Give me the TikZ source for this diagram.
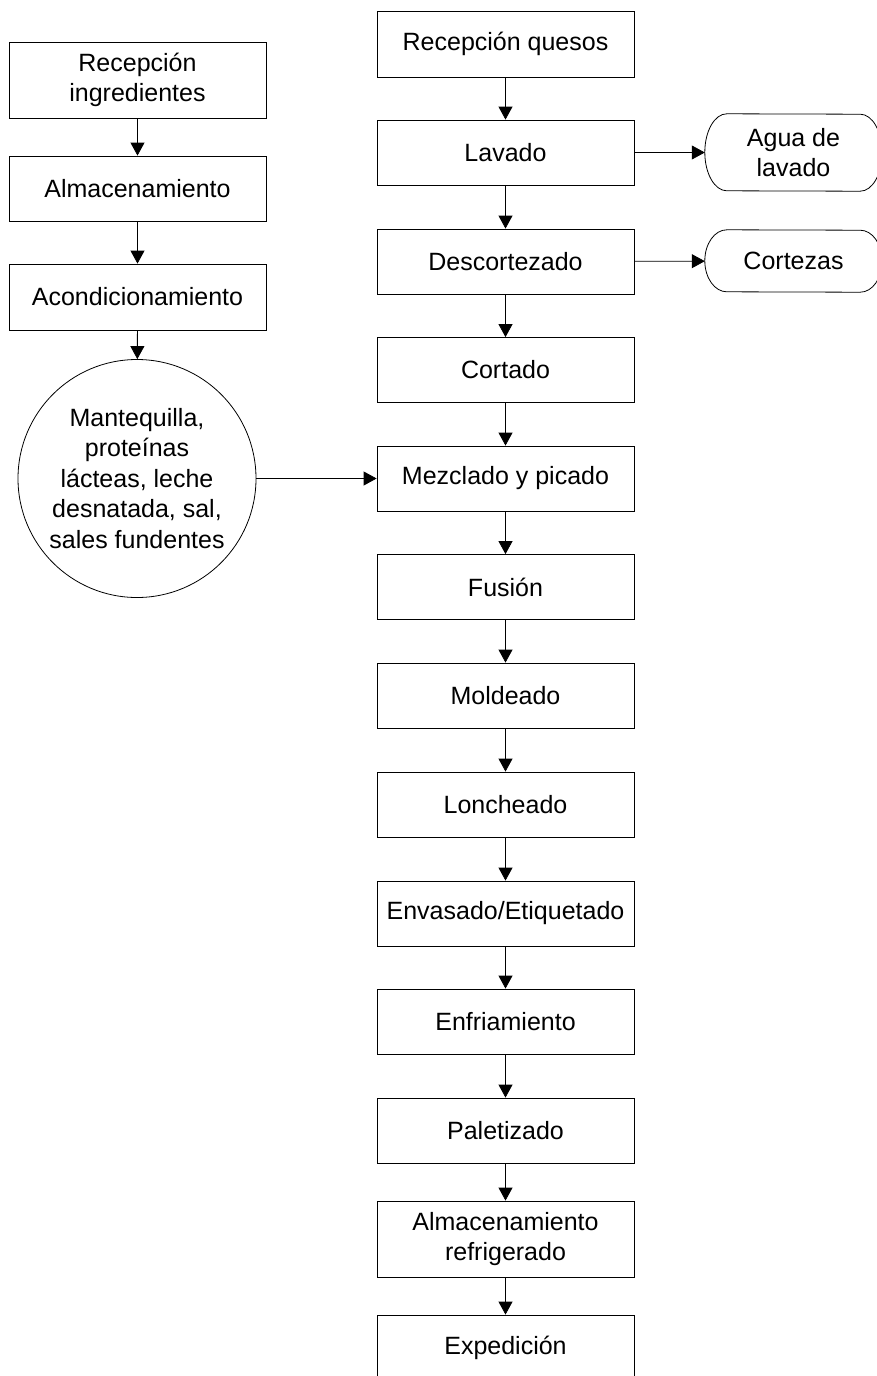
\documentclass[tikz,border=0pt]{standalone}
\usepackage{fontspec}
\setmainfont{Liberation Sans}
\usetikzlibrary{arrows.meta}

\begin{document}
\begin{tikzpicture}[x=1pt,y=-1pt,
  every node/.style={font=\fontsize{25}{30.5}\selectfont, align=center, inner sep=0pt},
  stepbox/.style={draw, line width=0.8pt, minimum width=257pt, minimum height=65pt},
  tallbox/.style={stepbox, minimum height=76pt},
  inputcircle/.style={draw, line width=0.8pt, circle, minimum size=238pt},
  flow/.style={line width=0.8pt, -{Triangle[width=14pt,length=13pt]}},
  termtext/.style={minimum width=177pt}
]
\useasboundingbox (0,0) rectangle (877,1376);
\clip (0,0) rectangle (877,1376);

% ingredients column
\node[tallbox] (ri)  at (137.5,80)   {Recepción\\ingredientes};
\node[stepbox] (alm1) at (137.5,188.5) {Almacenamiento};
\node[stepbox, minimum height=66pt] (aco) at (137.5,297) {Acondicionamiento};
\node[inputcircle] (mix) at (137,478.5) {Mantequilla,\\proteínas\\lácteas, leche\\desnatada, sal,\\sales fundentes};

% main process column
\node[stepbox, minimum height=66pt] (rq) at (505.5,44) {Recepción quesos};
\node[stepbox] (lav) at (505.5,152.5) {Lavado};
\node[stepbox] (des) at (505.5,261.5) {Descortezado};
\node[stepbox] (cor) at (505.5,370) {Cortado};
\node[stepbox] (mez) at (505.5,478.5) {Mezclado y picado};
\node[stepbox] (fus) at (505.5,587) {Fusión};
\node[stepbox] (mol) at (505.5,695.5) {Moldeado};
\node[stepbox] (lon) at (505.5,804.5) {Loncheado};
\node[stepbox] (env) at (505.5,913.5) {Envasado/Etiquetado};
\node[stepbox] (enf) at (505.5,1021.5) {Enfriamiento};
\node[stepbox] (pal) at (505.5,1130.5) {Paletizado};
\node[tallbox] (alm2) at (505.5,1239) {Almacenamiento\\refrigerado};
\node[stepbox] (exp) at (505.5,1347.5) {Expedición};

% by-products (terminators with elliptical ends)
\node[termtext, minimum height=77pt] (agua) at (793.5,152.5) {Agua de\\lavado};
\node[termtext, minimum height=62pt] (cort) at (793.5,261) {Cortezas};
\foreach \t/\ry in {agua/38.5, cort/31} {
  \draw[line width=0.8pt]
    ([xshift=22pt]\t.north west)
      arc[start angle=90, end angle=270, x radius=22pt, y radius=\ry pt]
    -- ([xshift=-22pt]\t.south east)
      arc[start angle=270, end angle=450, x radius=22pt, y radius=\ry pt]
    -- cycle;
}

% connectors
\draw[flow] (ri) -- (alm1);
\draw[flow] (alm1) -- (aco);
\draw[flow] (aco) -- (mix);
\draw[flow] (mix) -- (mez);

\draw[flow] (rq) -- (lav);
\draw[flow] (lav) -- (des);
\draw[flow] (des) -- (cor);
\draw[flow] (cor) -- (mez);
\draw[flow] (mez) -- (fus);
\draw[flow] (fus) -- (mol);
\draw[flow] (mol) -- (lon);
\draw[flow] (lon) -- (env);
\draw[flow] (env) -- (enf);
\draw[flow] (enf) -- (pal);
\draw[flow] (pal) -- (alm2);
\draw[flow] (alm2) -- (exp);

\draw[flow] (lav) -- (agua);
\draw[flow] (des) -- (cort);
\end{tikzpicture}
\end{document}
